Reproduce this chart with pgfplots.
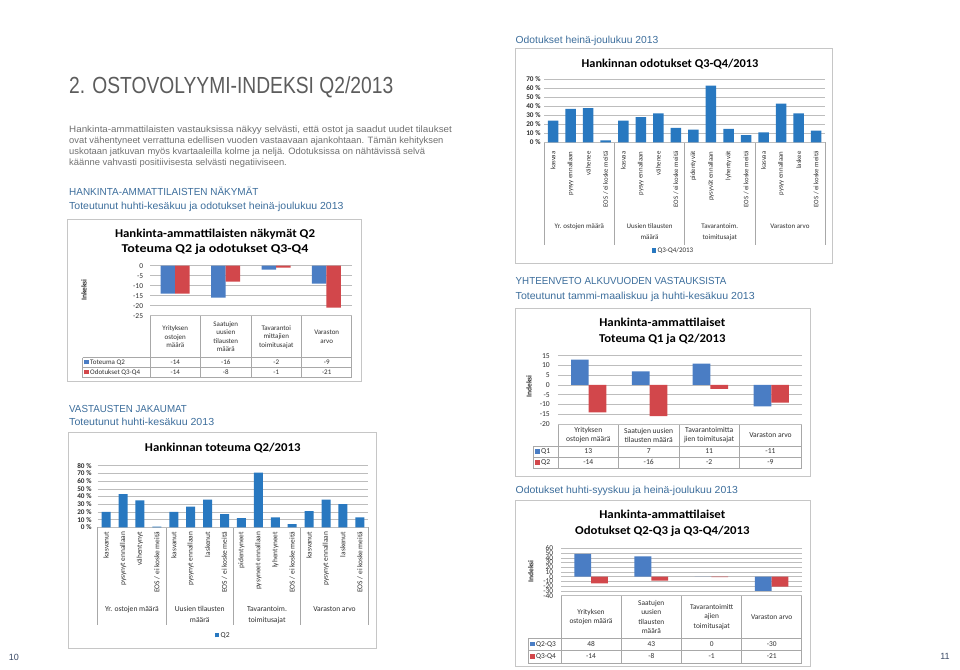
\documentclass[border=0pt]{standalone}
\usepackage{fontspec}
\setmainfont{Carlito}
\newfontfamily\hel{Liberation Sans}
\usepackage{graphicx}
\usepackage{pgfplots}
\pgfplotsset{compat=1.18}
\definecolor{hblue}{HTML}{3D6E9C}
\definecolor{ptext}{HTML}{707070}
\definecolor{ttext}{HTML}{5C5C5C}
\definecolor{boxc}{HTML}{C6C6C6}
\definecolor{gridc}{HTML}{BDBDBD}
\definecolor{tabc}{HTML}{A8A8A8}
\definecolor{bA}{HTML}{4A7DC4}
\definecolor{rA}{HTML}{D2474B}
\definecolor{bB}{HTML}{2878C0}
\definecolor{ink}{HTML}{303030}
\definecolor{pnum}{HTML}{3A4A66}
\newsavebox\fitbox
\newcommand\fitto[2]{\sbox\fitbox{#2}\pgfmathsetmacro\fitscale{#1/\wd\fitbox}\scalebox{\fitscale}[1]{\usebox\fitbox}}
\newcommand\fs[1]{\fontsize{#1}{#1}\selectfont}
\newcommand\sq[1]{\textcolor{#1}{\rule{4.5pt}{4.5pt}}\hspace{1.5pt}}
\pgfplotsset{
  pagebar/.style={scale only axis, anchor=north west, axis line style={draw=none},
    major tick length=0pt, ymajorgrids, grid style={gridc, line width=0.5pt},
    yticklabel style={inner sep=0pt, anchor=east, text=ink},
    every axis plot/.append style={draw=none},
    ybar=0pt}
}
\tikzset{val/.style={text height=5pt, text depth=1.5pt}}
\begin{document}
\begin{tikzpicture}
\begin{scope}[x=1pt,y=1pt]
\path[use as bounding box, fill=white] (0,0) rectangle (960,-669);
% ---------- left page texts
\node[anchor=base west, inner sep=0pt, text=ttext, font=\hel\fs{23.3}] at (69,-93.3) {\fitto{324}{2. OSTOVOLYYMI-INDEKSI Q2/2013}};
\begin{scope}[every node/.style={anchor=base west, inner sep=0pt, text=ptext, font=\hel\fs{9.2}}]
\node at (69,-132.7) {\fitto{382.7}{Hankinta-ammattilaisten vastauksissa näkyy selvästi, että ostot ja saadut uudet tilaukset}};
\node at (69,-143.7) {\fitto{374.3}{ovat vähentyneet verrattuna edellisen vuoden vastaavaan ajankohtaan. Tämän kehityksen}};
\node at (69,-154.5) {\fitto{356}{uskotaan jatkuvan myös kvartaaleilla kolme ja neljä. Odotuksissa on nähtävissä selvä}};
\node at (69,-165.3) {\fitto{217.7}{käänne vahvasti positiivisesta selvästi negatiiviseen.}};
\end{scope}
\begin{scope}[every node/.style={anchor=base west, inner sep=0pt, text=hblue, font=\hel\fs{10.2}}]
\node at (69,-195.7) {\fitto{189.3}{HANKINTA-AMMATTILAISTEN NÄKYMÄT}};
\node at (69,-209) {\fitto{274.3}{Toteutunut huhti-kesäkuu ja odotukset heinä-joulukuu 2013}};
\node at (69,-412.3) {\fitto{117.7}{VASTAUSTEN JAKAUMAT}};
\node at (69,-425.7) {\fitto{145}{Toteutunut huhti-kesäkuu 2013}};
\node at (515.5,-43.3) {\fitto{142.7}{Odotukset heinä-joulukuu 2013}};
\node at (515.5,-284.3) {\fitto{210.7}{YHTEENVETO ALKUVUODEN VASTAUKSISTA}};
\node at (515.5,-299) {\fitto{239}{Toteutunut tammi-maaliskuu ja huhti-kesäkuu 2013}};
\node at (515.5,-493.3) {\fitto{222.3}{Odotukset huhti-syyskuu ja heinä-joulukuu 2013}};
\end{scope}
\node[text=pnum, font=\hel\fs{9}] at (14,-657.7) {10};
\node[text=pnum, font=\hel\fs{9}] at (945,-656) {11};
% ---------- chart boxes
\draw[boxc, line width=0.7pt] (67.3,-219) rectangle (361.7,-381.7);
\draw[boxc, line width=0.7pt] (68.3,-432.3) rectangle (376,-648.3);
\draw[boxc, line width=0.7pt] (515,-48.3) rectangle (832.7,-263);
\draw[boxc, line width=0.7pt] (515,-308.3) rectangle (810.7,-476.7);
\draw[boxc, line width=0.7pt] (515,-500) rectangle (810.7,-666.7);
% ---------- chart titles
\begin{scope}[every node/.style={anchor=base, inner sep=0pt, text=black, font=\bfseries\fs{12}}]
\node at (215,-237.7) {\fitto{200}{Hankinta-ammattilaisten näkymät Q2}};
\node at (215,-252.3) {\fitto{186.7}{Toteuma Q2 ja odotukset Q3-Q4}};
\node at (222.8,-451.7) {\fitto{155.7}{Hankinnan toteuma Q2/2013}};
\node at (670,-67.7) {\fitto{176.7}{Hankinnan odotukset Q3-Q4/2013}};
\node at (662.3,-326.7) {\fitto{126}{Hankinta-ammattilaiset}};
\node at (662.3,-342.3) {\fitto{126.3}{Toteuma Q1 ja Q2/2013}};
\node at (662.3,-518.3) {\fitto{126}{Hankinta-ammattilaiset}};
\node at (662.3,-534.3) {\fitto{174.3}{Odotukset Q2-Q3 ja Q3-Q4/2013}};
\end{scope}
% y labels
\node[rotate=90, font=\bfseries\fs{7.5}, text=ink] at (84,-290) {Inkeksi};
\node[rotate=90, font=\bfseries\fs{7.5}, text=ink] at (529,-386.7) {Indeksi};
\node[rotate=90, font=\bfseries\fs{7.5}, text=ink] at (530.7,-571.7) {Indeksi};
% ---------- chart 1 table
\draw[tabc, line width=0.5pt]
  (150,-315.7) -- (351.7,-315.7)
  (82.7,-357.7) -- (351.7,-357.7) (82.7,-367.7) -- (351.7,-367.7) (82.7,-377.7) -- (351.7,-377.7)
  (82.7,-357.7) -- (82.7,-377.7)
  (150,-315.7) -- (150,-377.7) (200.7,-315.7) -- (200.7,-377.7) (251,-315.7) -- (251,-377.7)
  (301.7,-315.7) -- (301.7,-377.7) (351.7,-315.7) -- (351.7,-377.7);
\begin{scope}[every node/.style={align=center, inner sep=0pt, text=ink, font=\fs{7}}]
\node at (175.3,-336.7) {Yrityksen\\[1.5pt]ostojen\\[1.5pt]määrä};
\node at (225.8,-336.7) {Saatujen\\[1.5pt]uusien\\[1.5pt]tilausten\\[1.5pt]määrä};
\node at (276.3,-336.7) {Tavarantoi\\[1.5pt]mittajien\\[1.5pt]toimitusajat};
\node at (326.7,-336.7) {Varaston\\[1.5pt]arvo};
\node[val, anchor=west] at (84,-362.7) {\sq{bA}Toteuma Q2};
\node[val, anchor=west] at (84,-372.7) {\sq{rA}Odotukset Q3-Q4};
\node[val] at (175.3,-362.7) {-14}; \node[val] at (225.8,-362.7) {-16}; \node[val] at (276.3,-362.7) {-2}; \node[val] at (326.7,-362.7) {-9};
\node[val] at (175.3,-372.7) {-14}; \node[val] at (225.8,-372.7) {-8}; \node[val] at (276.3,-372.7) {-1}; \node[val] at (326.7,-372.7) {-21};
\end{scope}
% ---------- chart 2 separators & group labels
\draw[tabc, line width=0.5pt] (97.7,-527.3) -- (97.7,-625) (166,-527.3) -- (166,-625) (233.3,-527.3) -- (233.3,-625) (300.7,-527.3) -- (300.7,-625) (368.3,-527.3) -- (368.3,-625);
\begin{scope}[every node/.style={val, inner sep=0pt, text=ink, font=\fs{7.6}}]
\node at (131.9,-609.3) {Yr. ostojen määrä};
\node at (199.7,-609.3) {Uusien tilausten};
\node at (199.7,-620.7) {määrä};
\node at (267,-609.3) {Tavarantoim.};
\node at (267,-620.7) {toimitusajat};
\node at (334.5,-609.3) {Varaston arvo};
\node[anchor=west] at (214.5,-635.7) {\sq{bB}Q2};
\end{scope}
% ---------- chart 3 separators & group labels
\draw[tabc, line width=0.5pt] (544.3,-142.3) -- (544.3,-245) (614.5,-142.3) -- (614.5,-245) (684.7,-142.3) -- (684.7,-245) (754.8,-142.3) -- (754.8,-245) (825,-142.3) -- (825,-245);
\begin{scope}[every node/.style={val, inner sep=0pt, text=ink, font=\fs{7}}]
\node at (579.4,-226.7) {Yr. ostojen määrä};
\node at (649.6,-226.7) {Uusien tilausten};
\node at (649.6,-237.7) {määrä};
\node at (719.8,-226.7) {Tavarantoim.};
\node at (719.8,-237.7) {toimitusajat};
\node at (789.9,-226.7) {Varaston arvo};
\node[anchor=west] at (651.5,-251) {\sq{bB}Q3-Q4/2013};
\end{scope}
% ---------- chart 4 table
\draw[tabc, line width=0.5pt]
  (533.3,-446.7) -- (801.7,-446.7) (533.3,-457.3) -- (801.7,-457.3) (533.3,-468.3) -- (801.7,-468.3)
  (533.3,-446.7) -- (533.3,-468.3)
  (558.3,-424) -- (558.3,-468.3) (618.3,-424) -- (618.3,-468.3) (679,-424) -- (679,-468.3)
  (739.3,-424) -- (739.3,-468.3) (801.7,-424) -- (801.7,-468.3);
\begin{scope}[every node/.style={align=center, inner sep=0pt, text=ink, font=\fs{7.6}}]
\node at (588.3,-435.3) {Yrityksen\\[1.5pt]ostojen määrä};
\node at (648.7,-435.3) {Saatujen uusien\\[1.5pt]tilausten määrä};
\node at (709.2,-435.3) {Tavarantoimitta\\[1.5pt]jien toimitusajat};
\node at (770.5,-435.3) {Varaston arvo};
\node[val, anchor=west] at (535,-452) {\sq{bA}Q1};
\node[val, anchor=west] at (535,-462.8) {\sq{rA}Q2};
\node[val] at (588.3,-452) {13}; \node[val] at (648.7,-452) {7}; \node[val] at (709.2,-452) {11}; \node[val] at (770.5,-452) {-11};
\node[val] at (588.3,-462.8) {-14}; \node[val] at (648.7,-462.8) {-16}; \node[val] at (709.2,-462.8) {-2}; \node[val] at (770.5,-462.8) {-9};
\end{scope}
% ---------- chart 5 table
\draw[tabc, line width=0.5pt]
  (528.3,-638.3) -- (801.7,-638.3) (528.3,-650.7) -- (801.7,-650.7) (528.3,-663.3) -- (801.7,-663.3)
  (528.3,-638.3) -- (528.3,-663.3)
  (561,-595.7) -- (561,-663.3) (621,-595.7) -- (621,-663.3) (681.7,-595.7) -- (681.7,-663.3)
  (741.7,-595.7) -- (741.7,-663.3) (801.7,-595.7) -- (801.7,-663.3);
\begin{scope}[every node/.style={align=center, inner sep=0pt, text=ink, font=\fs{7.4}}]
\node at (591,-617) {Yrityksen\\[1.8pt]ostojen määrä};
\node at (651.3,-617) {Saatujen\\[1.8pt]uusien\\[1.8pt]tilausten\\[1.8pt]määrä};
\node at (711.7,-617) {Tavarantoimitt\\[1.8pt]ajien\\[1.8pt]toimitusajat};
\node at (771.7,-617) {Varaston arvo};
\node[val, anchor=west] at (530,-644.5) {\sq{bA}Q2-Q3};
\node[val, anchor=west] at (530,-657) {\sq{rA}Q3-Q4};
\node[val] at (591,-644.5) {48}; \node[val] at (651.3,-644.5) {43}; \node[val] at (711.7,-644.5) {0}; \node[val] at (771.7,-644.5) {-30};
\node[val] at (591,-657) {-14}; \node[val] at (651.3,-657) {-8}; \node[val] at (711.7,-657) {-1}; \node[val] at (771.7,-657) {-21};
\end{scope}
\end{scope}
% ================= AXES
% chart 1
\begin{axis}[pagebar, at={(150pt,-265.7pt)}, width=201.7pt, height=50pt,
  xmin=-0.5, xmax=3.5, ymin=-25, ymax=0, xtick=\empty,
  ytick={-25,-20,-15,-10,-5,0}, yticklabels={-25,-20,-15,-10,-5,0},
  yticklabel style={font=\fs{7.5}, xshift=-6.7pt}, bar width=14.5pt]
\addplot[fill=bA] coordinates {(0,-14) (1,-16) (2,-2) (3,-9)};
\addplot[fill=rA] coordinates {(0,-14) (1,-8) (2,-1) (3,-21)};
\end{axis}
% chart 2
\begin{axis}[pagebar, at={(97.7pt,-465.7pt)}, width=270.6pt, height=61.6pt,
  xmin=-0.5, xmax=15.5, ymin=0, ymax=80,
  ytick={0,10,20,30,40,50,60,70,80},
  yticklabels={0 \%,10 \%,20 \%,30 \%,40 \%,50 \%,60 \%,70 \%,80 \%},
  yticklabel style={font=\bfseries\fs{7.2}, xshift=-6pt},
  xtick={0,1,...,15},
  xticklabels={kasvanut,pysynyt ennallaan,vähentynyt,EOS / ei koske meitä,kasvanut,pysynyt ennallaan,laskenut,EOS / ei koske meitä,pidentyneet,pysyneet ennallaan,lyhentyneet,EOS / ei koske meitä,kasvanut,pysynyt ennallaan,laskenut,EOS / ei koske meitä},
  xticklabel style={rotate=90, anchor=east, inner sep=0pt, text=ink, font=\fs{7.4}},
  xticklabel shift=4.4pt, bar width=9pt]
\addplot[fill=bB] coordinates {(0,20) (1,43) (2,35) (3,1) (4,20) (5,27) (6,36) (7,17) (8,12) (9,71) (10,13) (11,4) (12,21) (13,36) (14,30) (15,13)};
\end{axis}
% chart 3
\begin{axis}[pagebar, at={(544.3pt,-79.3pt)}, width=280.7pt, height=63pt,
  xmin=-0.5, xmax=15.5, ymin=0, ymax=70,
  ytick={0,10,20,30,40,50,60,70},
  yticklabels={0 \%,10 \%,20 \%,30 \%,40 \%,50 \%,60 \%,70 \%},
  yticklabel style={font=\bfseries\fs{7.2}, xshift=-3.6pt},
  xtick={0,1,...,15},
  xticklabels={kasvaa,pysyy ennallaan,vähenee,EOS / ei koske meitä,kasvaa,pysyy ennallaan,vähenee,EOS / ei koske meitä,pidentyvät,pysyvät ennallaan,lyhentyvät,EOS / ei koske meitä,kasvaa,pysyy ennallaan,laskee,EOS / ei koske meitä},
  xticklabel style={rotate=90, anchor=east, inner sep=0pt, text=ink, font=\fs{6.8}},
  xticklabel shift=9pt, bar width=10.5pt]
\addplot[fill=bB] coordinates {(0,24) (1,37) (2,38) (3,2) (4,24) (5,28) (6,32) (7,16) (8,14) (9,63) (10,15) (11,8) (12,11) (13,43) (14,32) (15,13)};
\end{axis}
% chart 4
\begin{axis}[pagebar, at={(558.3pt,-355.7pt)}, width=243.4pt, height=68.3pt,
  xmin=-0.5, xmax=3.5, ymin=-20, ymax=15, xtick=\empty,
  ytick={-20,-15,-10,-5,0,5,10,15}, yticklabels={-20,-15,-10,-5,0,5,10,15},
  yticklabel style={font=\fs{7.6}, xshift=-8.3pt}, bar width=17.7pt]
\addplot[fill=bA] coordinates {(0,13) (1,7) (2,11) (3,-11)};
\addplot[fill=rA] coordinates {(0,-14) (1,-16) (2,-2) (3,-9)};
\end{axis}
% chart 5
\begin{axis}[pagebar, at={(561pt,-548.3pt)}, width=240.7pt, height=47.4pt,
  xmin=-0.5, xmax=3.5, ymin=-40, ymax=60, xtick=\empty,
  ytick={-40,-30,-20,-10,0,10,20,30,40,50,60}, yticklabels={-40,-30,-20,-10,0,10,20,30,40,50,60},
  yticklabel style={font=\fs{7.4}, xshift=-7.7pt}, bar width=16.8pt]
\addplot[fill=bA] coordinates {(0,48) (1,43) (2,0) (3,-30)};
\addplot[fill=rA] coordinates {(0,-14) (1,-8) (2,-1) (3,-21)};
\end{axis}
\end{tikzpicture}
\end{document}
